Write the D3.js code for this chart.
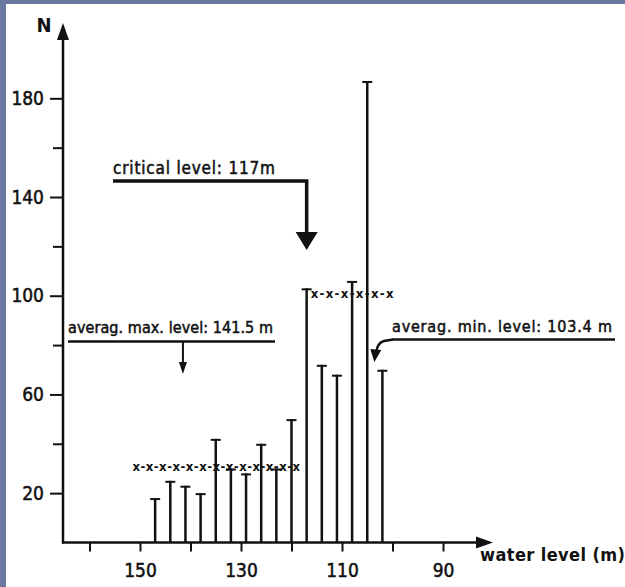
<!DOCTYPE html>
<html>
<head>
<meta charset="utf-8">
<script src="https://cdn.jsdelivr.net/npm/d3@7"></script>
<style>
  body { margin: 0; background: #6b78a0; }
  text { font-family: "DejaVu Sans Condensed", "DejaVu Sans", sans-serif; fill: #111; }
</style>
</head>
<body>
<div id="chart"></div>
<script>
// water levels (m) and number of cases N
const levels = [147, 144, 141, 138, 135, 132, 129, 126, 123, 120, 117, 114, 111, 108, 105, 102];
const counts = [18, 25, 23, 20, 42, 30, 28, 40, 30, 50, 103, 72, 68, 106, 187, 70];

const yMajorTicks = [20, 60, 100, 140, 180];
const yMinorTicks = [40, 80, 120, 160];
const xTicks = [160, 150, 140, 130, 120, 110, 100, 90];
const xTickLabels = [150, 130, 110, 90];

const criticalLevel = 117;
const avgMaxLevel = 141.5;
const avgMinLevel = 103.4;

// mean lines ("x-x-x") for the two groups of bars
const meanGroups = [
  { from: 151.5, to: 118.3, first: 0, last: 9, marks: 13 },
  { from: 116.2, to: 99.8, first: 10, last: 15, marks: 6 }
];

const W = 625, H = 587;
const ink = "#111";

const svg = d3.select("#chart")
  .append("svg")
  .attr("width", W)
  .attr("height", H);

// paper
svg.append("rect")
  .attr("x", 6).attr("y", 4)
  .attr("width", W - 6).attr("height", H - 4)
  .attr("fill", "#fff");

const x = d3.scaleLinear().domain([150, 90]).range([140, 443]);
const y = d3.scaleLinear().domain([0, 180]).range([542.5, 98.3]);
const x0 = 63, y0 = y(0);

// heavier "scanned" text
const heavy = sel => sel.attr("stroke", ink).attr("stroke-width", 0.5);

// y axis
const yAxis = svg.append("g")
  .attr("transform", `translate(${x0},0)`)
  .call(d3.axisLeft(y).tickValues(yMajorTicks).tickSize(13).tickPadding(6));
yAxis.select(".domain").remove();
yAxis.selectAll("line").attr("stroke", ink).attr("stroke-width", 2);
yAxis.selectAll("text").attr("font-size", 19).attr("fill", ink)
  .style("font-family", '"DejaVu Sans Condensed", sans-serif').call(heavy);

const yMinor = svg.append("g")
  .attr("transform", `translate(${x0},0)`)
  .call(d3.axisLeft(y).tickValues(yMinorTicks).tickSize(10).tickFormat(""));
yMinor.select(".domain").remove();
yMinor.selectAll("line").attr("stroke", ink).attr("stroke-width", 2);

// x axis
const xAxis = svg.append("g")
  .attr("transform", `translate(0,${y0})`)
  .call(d3.axisBottom(x).tickValues(xTicks).tickSize(9).tickPadding(12)
    .tickFormat(d => xTickLabels.includes(d) ? d : ""));
xAxis.select(".domain").remove();
xAxis.selectAll("line").attr("stroke", ink).attr("stroke-width", 2);
xAxis.selectAll("text").attr("font-size", 19).attr("fill", ink)
  .style("font-family", '"DejaVu Sans Condensed", sans-serif').call(heavy);

// axis lines with arrows
svg.append("line")
  .attr("x1", x0).attr("y1", y0 + 1).attr("x2", x0).attr("y2", 36)
  .attr("stroke", ink).attr("stroke-width", 2.5);
svg.append("path")
  .attr("d", `M${x0 - 6},40 L${x0 + 6},40 L${x0},23 Z`)
  .attr("fill", ink);
svg.append("line")
  .attr("x1", x0 - 1).attr("y1", y0).attr("x2", 480).attr("y2", y0)
  .attr("stroke", ink).attr("stroke-width", 2.5);
svg.append("path")
  .attr("d", `M476,${y0 - 6} L476,${y0 + 6} L493,${y0} Z`)
  .attr("fill", ink);

svg.append("text")
  .attr("x", 44).attr("y", 32)
  .attr("text-anchor", "middle")
  .attr("font-size", 20).attr("font-weight", "bold")
  .text("N");

svg.append("text")
  .attr("x", 480).attr("y", 561)
  .attr("font-size", 18).attr("font-weight", "bold")
  .attr("textLength", 145)
  .text("water level (m)");

// bars as capped vertical lines
const bars = svg.append("g");
levels.forEach((lv, i) => {
  bars.append("line")
    .attr("x1", x(lv)).attr("x2", x(lv))
    .attr("y1", y0).attr("y2", y(counts[i]))
    .attr("stroke", ink).attr("stroke-width", 2.5);
  bars.append("line")
    .attr("x1", x(lv) - 5).attr("x2", x(lv) + 5)
    .attr("y1", y(counts[i]) + 1).attr("y2", y(counts[i]) + 1)
    .attr("stroke", ink).attr("stroke-width", 2);
});

// mean lines
meanGroups.forEach(g => {
  const m = d3.mean(counts.slice(g.first, g.last + 1));
  const s = d3.range(g.marks).map(() => "x").join("-");
  svg.append("text")
    .attr("x", x(g.from)).attr("y", y(m) + 4.5)
    .attr("font-size", 13).attr("font-weight", "bold")
    .attr("textLength", x(g.to) - x(g.from))
    .attr("lengthAdjust", "spacing")
    .text(s);
});

// critical level annotation
const xc = x(criticalLevel);
svg.append("text")
  .attr("x", 113).attr("y", 174)
  .attr("font-size", 17)
  .attr("textLength", 162)
  .text("critical  level:  117m")
  .call(heavy);
svg.append("path")
  .attr("d", `M113,181 L${xc},181 L${xc},233`)
  .attr("fill", "none").attr("stroke", ink).attr("stroke-width", 3.5);
svg.append("path")
  .attr("d", `M${xc - 11},232 L${xc + 11},232 L${xc},250 Z`)
  .attr("fill", ink);

// average max level annotation
const xmx = x(avgMaxLevel);
svg.append("text")
  .attr("x", 68).attr("y", 333)
  .attr("font-size", 16)
  .attr("textLength", 205)
  .text("averag. max. level: 141.5 m")
  .call(heavy);
svg.append("line")
  .attr("x1", 68).attr("x2", 275).attr("y1", 341.5).attr("y2", 341.5)
  .attr("stroke", ink).attr("stroke-width", 2.5);
svg.append("line")
  .attr("x1", xmx).attr("x2", xmx).attr("y1", 341.5).attr("y2", 364)
  .attr("stroke", ink).attr("stroke-width", 2);
svg.append("path")
  .attr("d", `M${xmx - 4},362 L${xmx + 4},362 L${xmx},374 Z`)
  .attr("fill", ink);

// average min level annotation
const xmn = x(avgMinLevel);
svg.append("text")
  .attr("x", 392).attr("y", 332)
  .attr("font-size", 16)
  .attr("textLength", 220)
  .text("averag. min. level: 103.4 m")
  .call(heavy);
svg.append("line")
  .attr("x1", 392).attr("x2", 615).attr("y1", 339.5).attr("y2", 339.5)
  .attr("stroke", ink).attr("stroke-width", 2.5);
svg.append("path")
  .attr("d", `M393,339.5 L384,341 Q${xmn + 2},343 ${xmn + 1},352`)
  .attr("fill", "none").attr("stroke", ink).attr("stroke-width", 2.5);
svg.append("path")
  .attr("d", `M${xmn - 5},349 L${xmn + 6},350 L${xmn - 1},362 Z`)
  .attr("fill", ink);
</script>
</body>
</html>
